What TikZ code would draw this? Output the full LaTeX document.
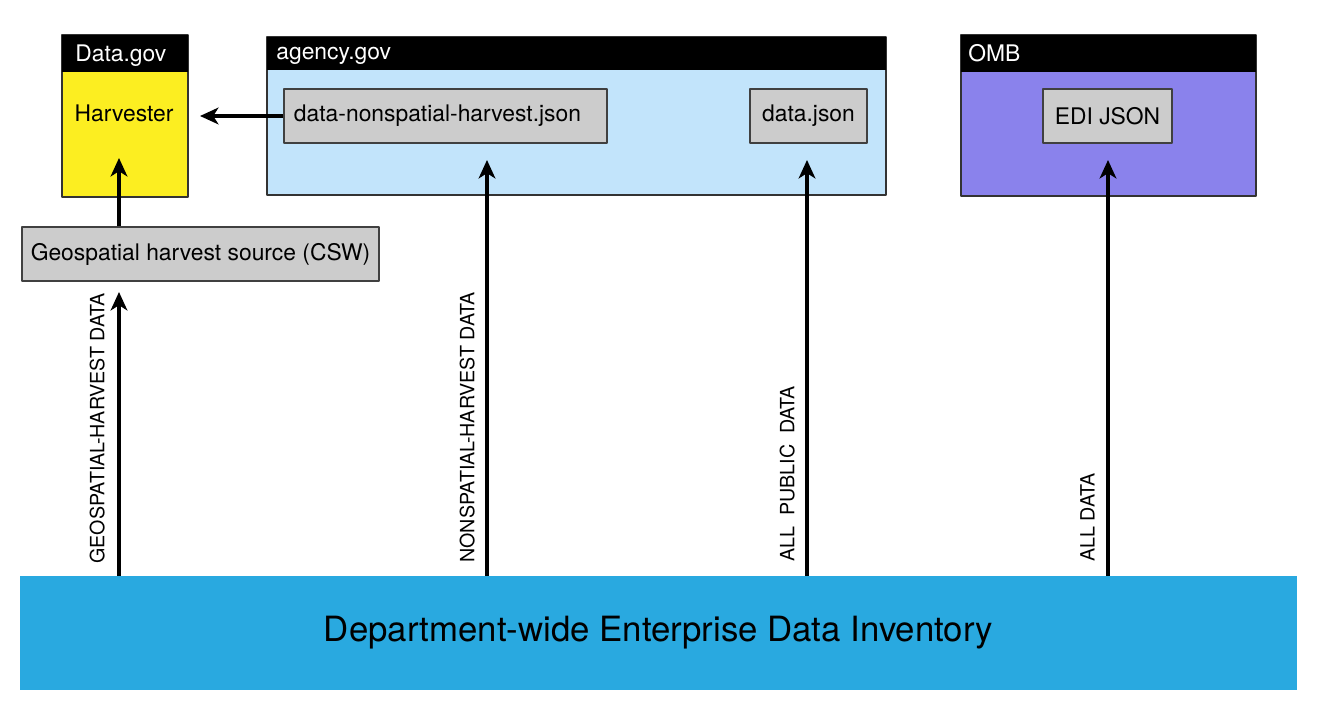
\documentclass[tikz,border=0pt]{standalone}
\usepackage{fontspec}
\setmainfont{TeX Gyre Heros}
\usetikzlibrary{arrows.meta,fit}
\definecolor{govyellow}{HTML}{FCEE21}
\definecolor{agencyblue}{HTML}{C2E4FB}
\definecolor{ombpurple}{HTML}{8A82EC}
\definecolor{boxgray}{HTML}{CCCCCC}
\definecolor{invblue}{HTML}{29A9E0}
\newlength\pxu \setlength\pxu{0.02cm}
\begin{document}
\begin{tikzpicture}[x=0.02cm, y=-0.02cm, >={Stealth[length=10.5pt,width=9.5pt,inset=3pt]}, font=\fontsize{13}{15}\selectfont, line join=round,
		panel/.style={draw=black!80, line width=0.6pt, inner sep=0pt},
		head/.style={fill=black, inner sep=0pt},
		headtext/.style={text=white, anchor=base west, inner sep=0pt, font=\fontsize{13}{15}\selectfont},
		box/.style={draw=black!75, fill=boxgray, line width=0.6pt, inner sep=0pt, minimum height=54*\pxu},
		flow/.style={->, line width=2pt},
		tag/.style={rotate=90, anchor=south west, inner sep=0pt, font=\fontsize{11.2}{13}\selectfont}]
	\useasboundingbox (0,0) rectangle (1318,715);
	% Data.gov
	\node (dgov) [panel, fill=govyellow, fit={(62,35) (188,197)}] {};
	\node (dgovbar) [head, fit={(62,35) (188,72)}] {};
	\node (dgovname) [headtext] at (75,62) {Data.gov};
	\node (harv) [anchor=base] at (124,122) {Harvester};
	% agency.gov
	\node (agency) [panel, fill=agencyblue, fit={(267,37) (886,195)}] {};
	\node (agencybar) [head, fit={(267,37) (886,70)}] {};
	\node (agencyname) [headtext] at (276,60) {agency.gov};
	\node (nsh) [box, minimum width=323*\pxu] at (445.5,116) {data-nonspatial-harvest.json\hspace*{16\pxu}};
	\node (dj) [box, minimum width=117*\pxu] at (808.5,116) {data.json};
	% OMB
	\node (omb) [panel, fill=ombpurple, fit={(961,35) (1256,196)}] {};
	\node (ombbar) [head, fit={(961,35) (1256,72)}] {};
	\node (ombname) [headtext] at (968,62) {OMB};
	\node (edi) [box, minimum width=129*\pxu] at (1107.5,116) {EDI JSON};
	\node (csw) [box, minimum width=357*\pxu] at (200.5,254) {Geospatial harvest source (CSW)};
	\node (inv) [fill=invblue, inner sep=0pt, minimum width=1277*\pxu, minimum height=114*\pxu, font=\fontsize{19.8}{24}\selectfont] at (658.5,633) {Department-wide Enterprise Data Inventory};
	% arrows
	\coordinate (geotip) at (119,292);
	\coordinate (harvtip) at (119,158);
	\coordinate (nshtip) at (200,116);
	\coordinate (nontip) at (487,160);
	\coordinate (pubtip) at (807,160);
	\coordinate (alltip) at (1108,160);
	\draw[flow] (inv.north -| geotip) -- (geotip);
	\draw[flow] (csw.north -| harvtip) -- (harvtip);
	\draw[flow] (nsh.west) -- (nshtip);
	\draw[flow] (inv.north -| nontip) -- (nontip);
	\draw[flow] (inv.north -| pubtip) -- (pubtip);
	\draw[flow] (inv.north -| alltip) -- (alltip);
	\node (geotag) [tag] at (105,564) {GEOSPATIAL-HARVEST DATA};
	\node (nontag) [tag] at (475,563) {NONSPATIAL-HARVEST DATA};
	\node (pubtag) [tag] at (795,562) {ALL\hspace{.55em}PUBLIC\hspace{.55em}DATA};
	\node (alltag) [tag] at (1095,562) {ALL DATA};
\end{tikzpicture}
\end{document}
